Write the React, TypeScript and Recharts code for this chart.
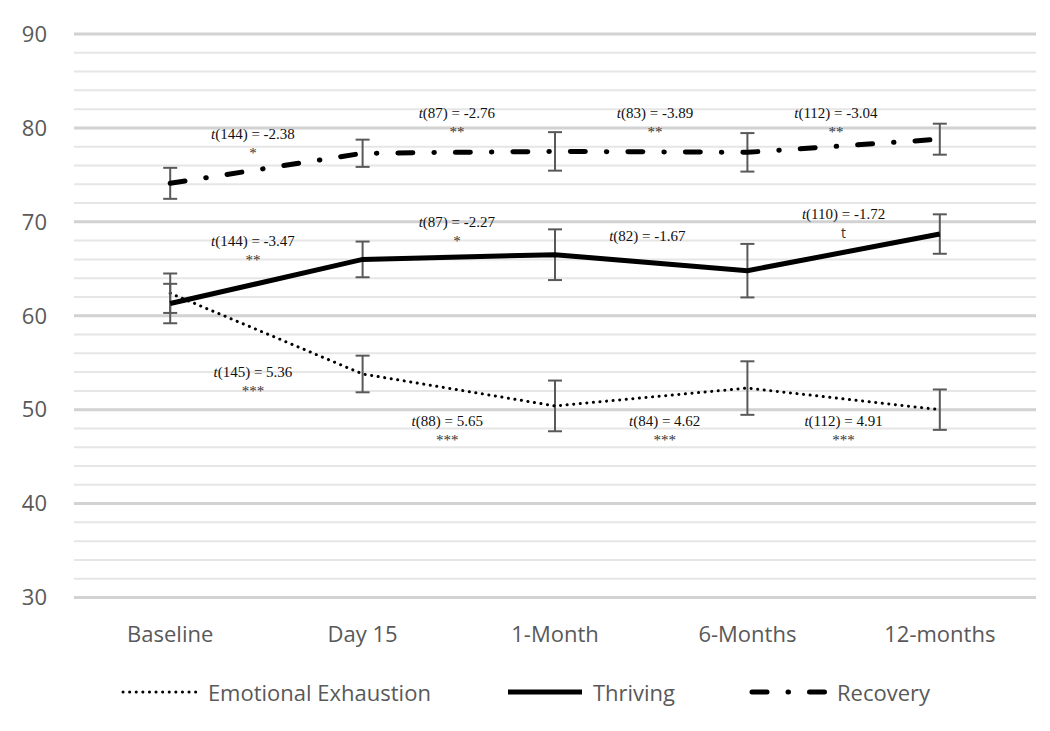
import {
  ComposedChart, Line, XAxis, YAxis, CartesianGrid, ErrorBar, Legend, ReferenceLine, ReferenceDot
} from 'recharts';

const timepoints = ['Baseline', 'Day 15', '1-Month', '6-Months', '12-months'];

const exhaustion = [62.4, 53.8, 50.4, 52.3, 50.0];
const exhaustionErr = [2.1, 1.95, 2.7, 2.85, 2.15];
const thriving = [61.3, 66.0, 66.5, 64.8, 68.7];
const thrivingErr = [2.1, 1.9, 2.7, 2.85, 2.1];
const recovery = [74.1, 77.3, 77.5, 77.4, 78.8];
const recoveryErr = [1.65, 1.45, 2.05, 2.05, 1.65];

const yTicks = [30, 32, 34, 36, 38, 40, 42, 44, 46, 48, 50, 52, 54, 56, 58, 60, 62, 64, 66, 68, 70, 72, 74, 76, 78, 80, 82, 84, 86, 88, 90];
const majorTicks = [30, 40, 50, 60, 70, 80, 90];

// t-test annotations, placed between timepoints
const recoveryStats = ['(144) = -2.38', '(87) = -2.76', '(83) = -3.89', '(112) = -3.04'];
const recoveryStars = ['*', '**', '**', '**'];
const recoveryStatX = [0.43, 1.49, 2.52, 3.46];
const recoveryStatY = [78.8, 81.1, 81.1, 81.1];

const thrivingStats = ['(144) = -3.47', '(87) = -2.27', '(82) = -1.67', '(110) = -1.72'];
const thrivingStars = ['**', '*', '', 't'];
const thrivingStatX = [0.43, 1.49, 2.48, 3.5];
const thrivingStatY = [67.45, 69.5, 68.0, 70.3];

const exhaustionStats = ['(145) = 5.36', '(88) = 5.65', '(84) = 4.62', '(112) = 4.91'];
const exhaustionStars = ['***', '***', '***', '***'];
const exhaustionStatX = [0.43, 1.44, 2.57, 3.5];
const exhaustionStatY = [53.5, 48.25, 48.25, 48.25];

const data = timepoints.map((name, i) => ({
  x: i,
  name,
  exhaustion: exhaustion[i],
  exhaustionErr: exhaustionErr[i],
  thriving: thriving[i],
  thrivingErr: thrivingErr[i],
  recovery: recovery[i],
  recoveryErr: recoveryErr[i],
}));

const annotations = [
  ...recoveryStats.map((s, i) => ({ text: s, stars: recoveryStars[i], x: recoveryStatX[i], y: recoveryStatY[i] })),
  ...thrivingStats.map((s, i) => ({ text: s, stars: thrivingStars[i], x: thrivingStatX[i], y: thrivingStatY[i] })),
  ...exhaustionStats.map((s, i) => ({ text: s, stars: exhaustionStars[i], x: exhaustionStatX[i], y: exhaustionStatY[i] })),
];

const AXIS_FONT = '"Open Sans", sans-serif';
const SERIF = '"Liberation Serif", "Times New Roman", serif';
const TEXT_GRAY = '#595959';

const DOTTED = '0.1 6.5';
const DASH_DOT = '15 21 0.5 21';

const legendItems = [
  { label: 'Emotional Exhaustion', width: 3, dash: DOTTED },
  { label: 'Thriving', width: 5, dash: undefined },
  { label: 'Recovery', width: 5, dash: DASH_DOT },
];

function ChartLegend() {
  return (
    <div style={{ display: 'flex', justifyContent: 'center', alignItems: 'center', height: 40 }}>
      {legendItems.map((it, i) => (
        <div key={it.label} style={{ display: 'flex', alignItems: 'center', marginLeft: i === 0 ? 0 : 74 }}>
          <svg width={80} height={12}>
            <line x1={3} y1={6} x2={77} y2={6} stroke="#000" strokeWidth={it.width}
              strokeDasharray={it.dash} strokeLinecap={it.dash ? 'round' : 'butt'} />
          </svg>
          <span style={{ fontFamily: AXIS_FONT, fontSize: 22, color: TEXT_GRAY, marginLeft: 8 }}>{it.label}</span>
        </div>
      ))}
    </div>
  );
}

function StatLabel(props: any) {
  const { cx, cy, text, stars } = props;
  return (
    <g>
      <text x={cx} y={cy} textAnchor="middle" fontFamily={SERIF} fontSize={15} fill="#111">
        <tspan fontStyle="italic">t</tspan>{text}
      </text>
      {stars && (
        <text x={cx} y={cy + 19} textAnchor="middle" fontFamily={stars === 't' ? AXIS_FONT : SERIF}
          fontSize={stars === 't' ? 14 : 15} fill="#333">
          {stars}
        </text>
      )}
    </g>
  );
}

export default function App() {
  return (
    <div style={{ position: 'absolute', left: 0, top: 0, width: 1050, height: 731, background: '#fff' }}>
      <ComposedChart width={1050} height={731} data={data}
        margin={{ top: 34, right: 14, bottom: 43.5, left: 0 }}>
        <CartesianGrid vertical={false} stroke="#e6e6e6" strokeWidth={2} />
        {majorTicks.map(v => (
          <ReferenceLine key={v} y={v} stroke="#d2d2d2" strokeWidth={3} />
        ))}
        <XAxis
          dataKey="x"
          type="number"
          domain={[-0.5, 4.5]}
          ticks={[0, 1, 2, 3, 4]}
          tickFormatter={(i: number) => timepoints[i]}
          axisLine={false}
          tickLine={false}
          tickSize={0}
          tickMargin={28.6}
          height={50}
          tick={{ fontFamily: AXIS_FONT, fontSize: 22, fill: TEXT_GRAY }}
        />
        <YAxis
          domain={[30, 90]}
          ticks={yTicks}
          interval={0}
          tickFormatter={(v: number) => (v % 10 === 0 ? String(v) : '')}
          axisLine={false}
          tickLine={false}
          tickSize={0}
          tickMargin={27}
          width={74}
          tick={{ fontFamily: AXIS_FONT, fontSize: 22, fill: TEXT_GRAY }}
        />
        <Legend verticalAlign="bottom" height={40} content={() => <ChartLegend />}
          wrapperStyle={{ position: 'absolute', top: 672, left: 0, width: 1050, height: 40 }} />
        <Line dataKey="exhaustion" name="Emotional Exhaustion" stroke="#000" strokeWidth={3}
          strokeDasharray={DOTTED} strokeLinecap="round" dot={false} activeDot={false}
          isAnimationActive={false}>
          <ErrorBar dataKey="exhaustionErr" direction="y" width={7} stroke="#595959" strokeWidth={2} />
        </Line>
        <Line dataKey="thriving" name="Thriving" stroke="#000" strokeWidth={5}
          dot={false} activeDot={false} isAnimationActive={false}>
          <ErrorBar dataKey="thrivingErr" direction="y" width={7} stroke="#595959" strokeWidth={2} />
        </Line>
        <Line dataKey="recovery" name="Recovery" stroke="#000" strokeWidth={5}
          strokeDasharray={DASH_DOT} strokeLinecap="round" dot={false} activeDot={false}
          isAnimationActive={false}>
          <ErrorBar dataKey="recoveryErr" direction="y" width={7} stroke="#595959" strokeWidth={2} />
        </Line>
        {annotations.map((a, i) => (
          <ReferenceDot key={i} x={a.x} y={a.y} r={1}
            shape={(p: any) => <StatLabel cx={p.cx} cy={p.cy} text={a.text} stars={a.stars} />} />
        ))}
      </ComposedChart>
    </div>
  );
}
